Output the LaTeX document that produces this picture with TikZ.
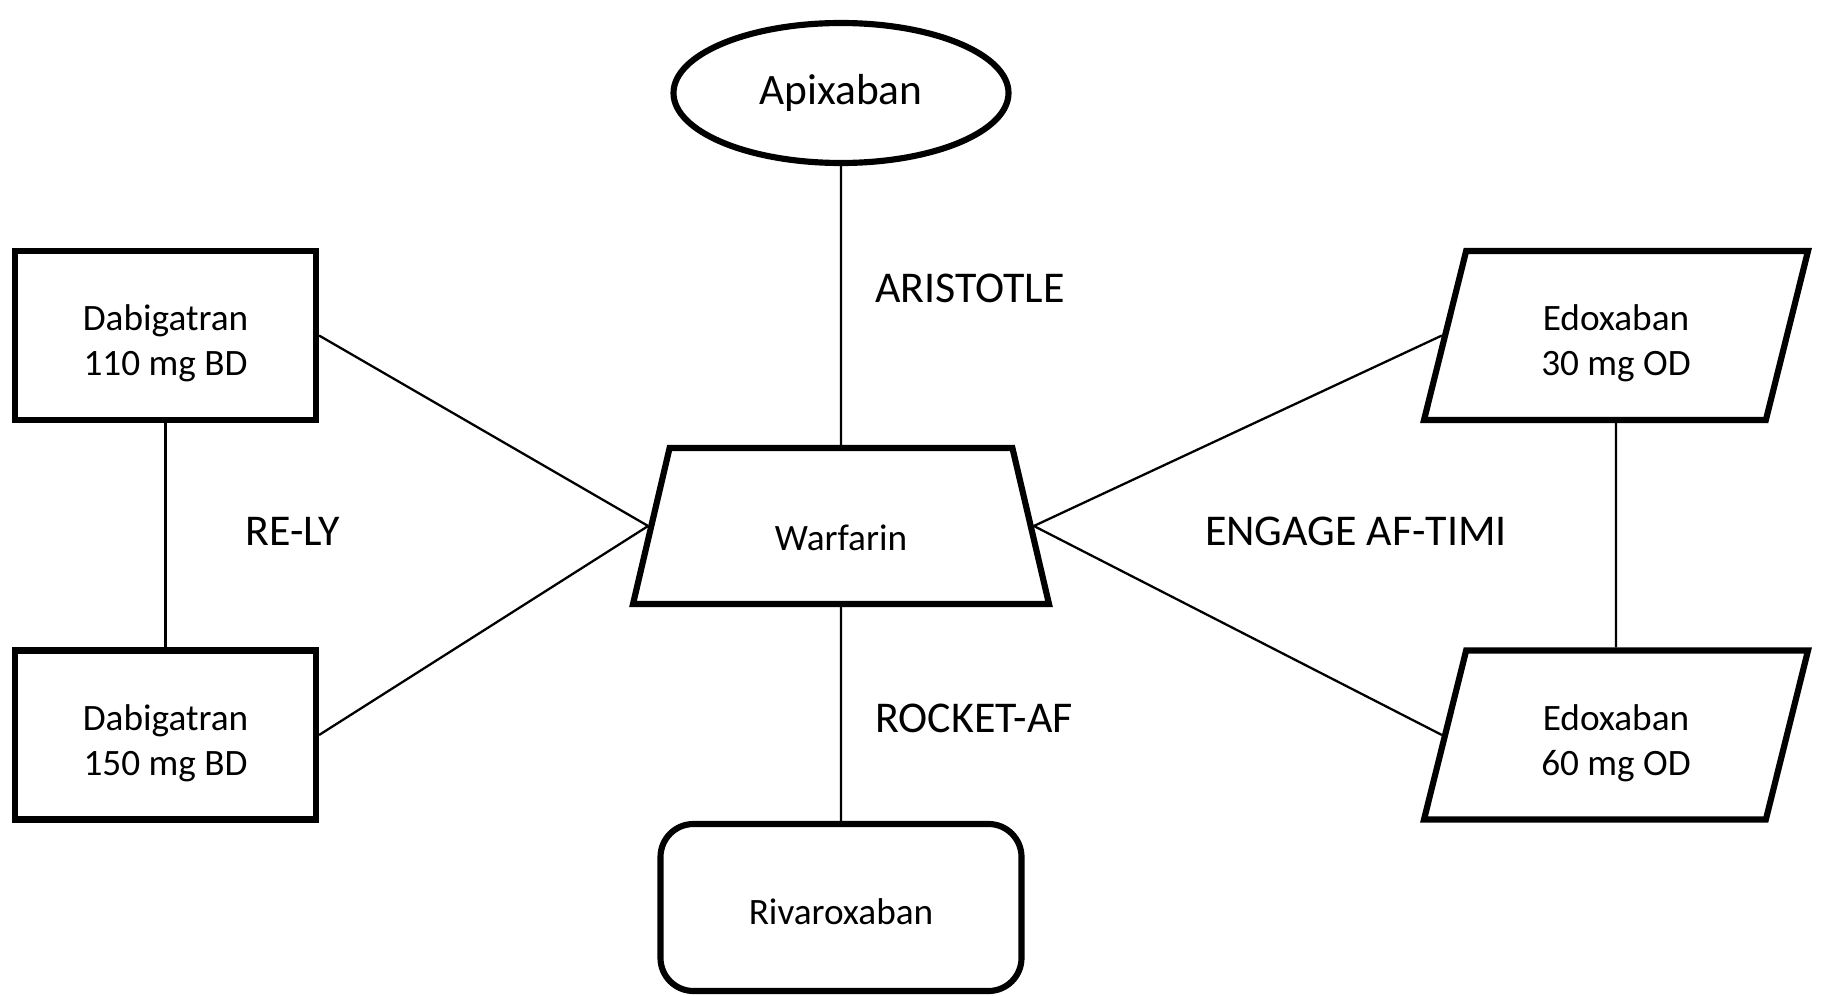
\documentclass[tikz,border=0pt]{standalone}
\usepackage{fontspec}
\setmainfont{Carlito}
\usetikzlibrary{shapes.geometric}

\begin{document}
\begin{tikzpicture}[
    every node/.style={align=center,font=\fontsize{21.2}{25.6}\selectfont},
    drug/.style={draw,line width=3.5pt,minimum width=6.02cm,minimum height=3.38cm,
      text height=51pt,text depth=5.2pt},
    slanted/.style={draw,line width=3.5pt,trapezium,trapezium stretches body,
      trapezium left angle=76,trapezium right angle=104,inner ysep=0pt,
      text height=71pt,text depth=25.2pt,minimum width=7.68cm},
    trial/.style={font=\fontsize{25}{30}\selectfont},
    link/.style={line width=1.3pt}
  ]
  \useasboundingbox (0,0) rectangle (36.46,-19.92);

  \node[draw,line width=3.5pt,ellipse,minimum width=6.7cm,minimum height=2.8cm,
    font=\fontsize{24.7}{30}\selectfont] (Apix) at (16.82,-1.86) {Apixaban};
  \node[drug] (Dab1) at (3.31,-6.71) {Dabigatran\\110 mg BD};
  \node[drug] (Dab2) at (3.31,-14.7) {Dabigatran\\150 mg BD};
  \node[draw,line width=3.5pt,trapezium,trapezium stretches body,
    trapezium left angle=76.8,trapezium right angle=76.8,inner ysep=0pt,
    text height=58.2pt,text depth=30.6pt,minimum width=8.32cm] (Warf) at (16.82,-10.52) {Warfarin};
  \node[slanted] (Edo1) at (32.32,-6.71) {Edoxaban\\30 mg OD};
  \node[slanted] (Edo2) at (32.32,-14.7) {Edoxaban\\60 mg OD};
  \node[draw,line width=3.5pt,rounded corners=0.66cm,minimum width=7.22cm,minimum height=3.34cm,
    text height=20pt,text depth=1.2pt] (Riva) at (16.82,-18.15) {Rivaroxaban};

  %% trial names
  \node[trial] (Aris) at (19.4,-5.76) {ARISTOTLE};
  \node[trial] (Rely) at (5.86,-10.62) {RE-LY};
  \node[trial] (Enga) at (27.12,-10.62) {ENGAGE AF-TIMI};
  \node[trial] (Rock) at (19.48,-14.36) {ROCKET-AF};

  \path[link] (Apix) edge (Warf) (Warf) edge (Riva);
  \path[link] (Dab1) edge (Dab2) (Edo1) edge (Edo2);
  \path[link] (Dab1.east) edge (Warf.left side) (Dab2.east) edge (Warf.left side);
  \path[link] (Edo1.left side) edge (Warf.right side) (Edo2.left side) edge (Warf.right side);
\end{tikzpicture}
\end{document}
